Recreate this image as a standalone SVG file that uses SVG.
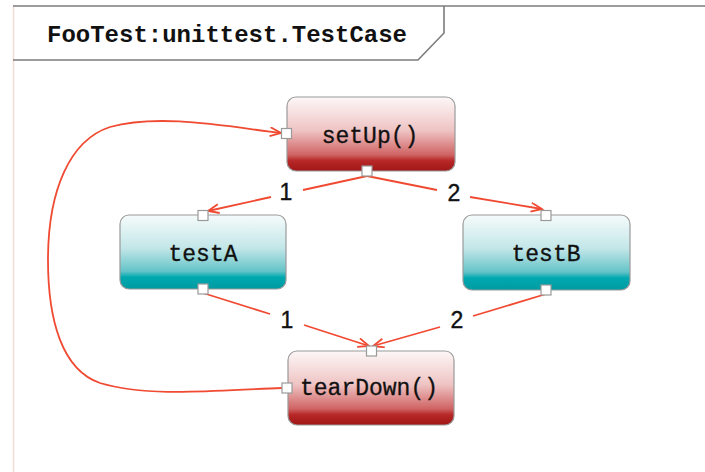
<svg xmlns="http://www.w3.org/2000/svg" width="705" height="472" viewBox="0 0 705 472">
  <style>
    .node rect.box { stroke: #9a9a9a; stroke-width: 1.2; }
    .port { fill: #ffffff; stroke: #9a9a9a; stroke-width: 1.2; }
    .label { font-family: "Nimbus Mono PS", "Courier", "Liberation Mono", monospace; font-size: 23px; fill: #111; text-anchor: middle; stroke: #111; stroke-width: 0.3; }
    .edge { fill: none; stroke: #f04a32; stroke-width: 1.8; }
    .num { font-family: "Liberation Sans", Arial, sans-serif; font-size: 23px; fill: #111; text-anchor: middle; stroke: #111; stroke-width: 0.4; }
    .frame { fill: none; stroke: #7c7c7c; stroke-width: 1.6; }
  </style>
  <defs>
    <linearGradient id="redFill" x1="0" y1="0" x2="0" y2="1">
      <stop offset="0" stop-color="#fdf7f7"/>
      <stop offset="0.45" stop-color="#efc4c4"/>
      <stop offset="0.78" stop-color="#d06464"/>
      <stop offset="0.86" stop-color="#b82828"/>
      <stop offset="1" stop-color="#a01616"/>
    </linearGradient>
    <linearGradient id="tealFill" x1="0" y1="0" x2="0" y2="1">
      <stop offset="0" stop-color="#f6fbfb"/>
      <stop offset="0.45" stop-color="#c2e6e8"/>
      <stop offset="0.76" stop-color="#64c4c8"/>
      <stop offset="0.84" stop-color="#00a9af"/>
      <stop offset="1" stop-color="#009aa2"/>
    </linearGradient>
    <marker id="arrow" markerUnits="userSpaceOnUse" markerWidth="16" markerHeight="12" refX="12" refY="5" orient="auto">
      <path d="M1,0.5 L12,5 L1,9.5" fill="none" stroke="#f04a32" stroke-width="1.8"/>
    </marker>
  </defs>

  <rect width="705" height="472" fill="#ffffff"/>

  <!-- frame with title tab -->
  <g id="frame">
    <line x1="13.5" y1="6" x2="13.5" y2="472" stroke="#f0dedb" stroke-width="1.6"/>
    <line x1="13" y1="6" x2="705" y2="6" class="frame"/>
    <path d="M13,60 L418,60 L444,33 L444,6" class="frame"/>
    <text x="227" y="42" font-family="Nimbus Mono PS, Courier, Liberation Mono, monospace" font-size="24" font-weight="bold" fill="#111" text-anchor="middle" textLength="360" lengthAdjust="spacingAndGlyphs">FooTest:unittest.TestCase</text>
  </g>

  <!-- connectors -->
  <g id="connectors">
    <!-- setUp -> testA (1) -->
    <path class="edge" d="M367,176 L303,190"/>
    <path class="edge" d="M271,197 L208,211" marker-end="url(#arrow)"/>
    <!-- setUp -> testB (2) -->
    <path class="edge" d="M367,176 L437,190"/>
    <path class="edge" d="M470,197 L542,209" marker-end="url(#arrow)"/>
    <!-- testA -> tearDown (1) -->
    <path class="edge" d="M203,293 L270,314"/>
    <path class="edge" d="M304,325 L369,346" marker-end="url(#arrow)"/>
    <!-- testB -> tearDown (2) -->
    <path class="edge" d="M546,294 L473,316"/>
    <path class="edge" d="M440,327 L373,346" marker-end="url(#arrow)"/>
    <!-- tearDown -> setUp loop -->
    <path class="edge" d="M282,388 C220,390 150,398 100,383 C62,370 48,320 48,260 C48,190 70,140 110,127 C160,113 230,127 281,133" marker-end="url(#arrow)"/>

    <text class="num" x="286" y="200">1</text>
    <text class="num" x="454" y="201">2</text>
    <text class="num" x="287" y="328">1</text>
    <text class="num" x="457" y="328">2</text>
  </g>

  <g id="setUp" class="node">
    <rect class="box" x="287" y="97" width="168" height="74" rx="9" fill="url(#redFill)"/>
    <text class="label" x="370" y="143">setUp()</text>
    <rect class="port" x="281.5" y="128.5" width="10" height="10"/>
    <rect class="port" x="362" y="166" width="10" height="10"/>
  </g>

  <g id="testA" class="node">
    <rect class="box" x="120" y="215" width="166" height="74" rx="9" fill="url(#tealFill)"/>
    <text class="label" x="203" y="261">testA</text>
    <rect class="port" x="198" y="210.5" width="10" height="10"/>
    <rect class="port" x="198" y="284" width="10" height="10"/>
  </g>

  <g id="testB" class="node">
    <rect class="box" x="463" y="215" width="167" height="75" rx="9" fill="url(#tealFill)"/>
    <text class="label" x="546" y="261">testB</text>
    <rect class="port" x="541" y="210.5" width="10" height="10"/>
    <rect class="port" x="541" y="285" width="10" height="10"/>
  </g>

  <g id="tearDown" class="node">
    <rect class="box" x="288" y="351" width="166" height="74" rx="9" fill="url(#redFill)"/>
    <text class="label" x="369" y="395">tearDown()</text>
    <rect class="port" x="366.5" y="346" width="10" height="10"/>
    <rect class="port" x="282" y="383" width="10" height="10"/>
  </g>
</svg>
